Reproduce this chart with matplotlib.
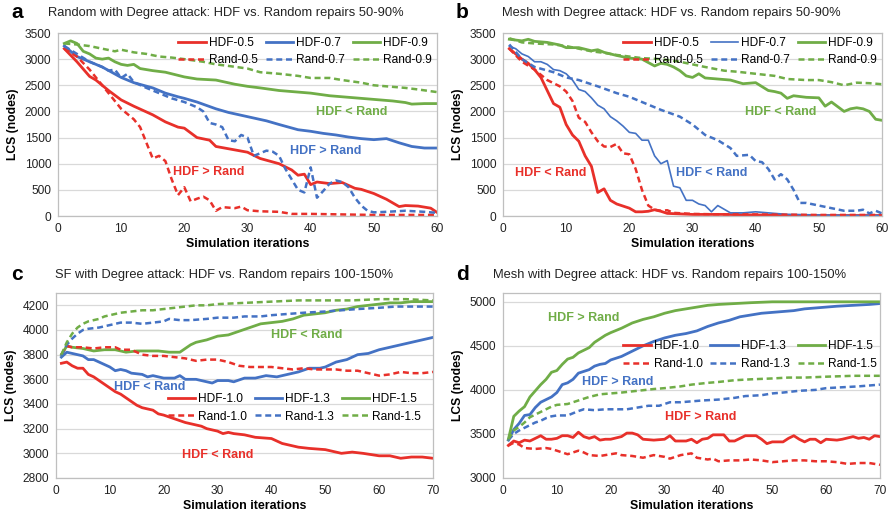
import matplotlib
matplotlib.use("Agg")
import matplotlib.pyplot as plt

plt.rcParams['font.family'] = ['Liberation Sans', 'DejaVu Sans']

RED = '#E8302A'
BLUE = '#4472C4'
GREEN = '#70AD47'

# ---------------- panel a: Random network, repairs 50-90% ----------------
a_hdf05_x = [1, 3, 5, 6, 8, 10, 12, 15, 17, 19, 20, 22, 24, 25, 30, 32, 35, 37, 38, 39, 40, 41, 43, 45, 47, 48, 50, 52, 54, 55, 57, 59, 60]
a_hdf05_y = [3200, 2950, 2670, 2600, 2400, 2220, 2100, 1935, 1800, 1700, 1680, 1500, 1450, 1330, 1220, 1100, 1000, 880, 780, 800, 600, 650, 620, 640, 530, 510, 430, 320, 180, 200, 190, 150, 70]
a_rand05_x = [1, 3, 5, 7, 8, 10, 12, 13, 14, 15, 16, 17, 18, 19, 20, 21, 22, 23, 24, 25, 26, 28, 29, 30, 32, 35, 37, 40, 45, 50, 60]
a_rand05_y = [3200, 3050, 2800, 2500, 2350, 2050, 1850, 1700, 1400, 1100, 1150, 1050, 700, 400, 550, 280, 330, 370, 300, 100, 170, 150, 180, 110, 90, 80, 40, 40, 30, 20, 20]
a_hdf07_x = [1, 3, 5, 7, 10, 12, 15, 17, 19, 20, 22, 25, 27, 30, 33, 35, 38, 40, 42, 44, 46, 48, 50, 52, 54, 56, 58, 60]
a_hdf07_y = [3250, 3050, 2950, 2850, 2650, 2550, 2450, 2350, 2280, 2250, 2180, 2050, 1980, 1900, 1820, 1750, 1650, 1620, 1580, 1550, 1510, 1480, 1460, 1480, 1400, 1330, 1300, 1300]
a_rand07_x = [1, 3, 5, 7, 8, 9, 10, 11, 12, 14, 16, 18, 20, 22, 23, 24, 25, 26, 27, 28, 29, 30, 31, 32, 33, 34, 35, 36, 37, 38, 39, 40, 41, 42, 43, 44, 45, 46, 47, 48, 49, 50, 52, 55, 58, 60]
a_rand07_y = [3250, 3100, 2950, 2850, 2780, 2800, 2640, 2720, 2560, 2450, 2350, 2250, 2180, 2080, 2000, 1780, 1750, 1700, 1450, 1430, 1550, 1500, 1150, 1200, 1250, 1230, 1150, 900, 700, 500, 450, 930, 350, 480, 620, 680, 650, 550, 350, 200, 100, 70, 80, 100, 80, 60]
a_hdf09_x = [1, 2, 3, 4, 5, 6, 7, 8, 9, 10, 11, 12, 13, 15, 17, 20, 22, 25, 28, 30, 32, 35, 37, 40, 43, 45, 48, 50, 53, 55, 56, 58, 60]
a_hdf09_y = [3300, 3350, 3300, 3150, 3100, 3020, 3000, 3020, 2950, 2900, 2880, 2900, 2820, 2780, 2750, 2660, 2620, 2600, 2520, 2480, 2450, 2400, 2380, 2350, 2300, 2280, 2250, 2230, 2200, 2170, 2140, 2150, 2150]
a_rand09_x = [1, 3, 5, 7, 9, 10, 12, 14, 16, 18, 20, 23, 25, 27, 30, 32, 35, 38, 40, 43, 45, 48, 50, 53, 55, 57, 60]
a_rand09_y = [3300, 3280, 3250, 3200, 3150, 3180, 3130, 3100, 3050, 3030, 3000, 2950, 2900, 2870, 2820, 2750, 2720, 2680, 2640, 2640, 2600, 2550, 2500, 2470, 2450, 2420, 2370]

# ---------------- panel b: Mesh network, repairs 50-90% ----------------
b_hdf05_x = [1, 2, 3, 4, 5, 6, 7, 8, 9, 10, 11, 12, 13, 14, 15, 16, 17, 18, 19, 20, 21, 22, 23, 24, 25, 26, 28, 30, 35, 40, 50, 60]
b_hdf05_y = [3200, 3100, 3000, 2920, 2800, 2650, 2400, 2150, 2080, 1750, 1550, 1430, 1150, 950, 450, 520, 300, 230, 190, 150, 80, 80, 90, 120, 90, 50, 40, 30, 30, 20, 10, 10]
b_rand05_x = [1, 3, 5, 7, 9, 10, 11, 12, 13, 14, 15, 16, 17, 18, 19, 20, 21, 22, 23, 24, 25, 26, 27, 30, 35, 40, 50, 60]
b_rand05_y = [3200, 2950, 2800, 2600, 2480, 2380, 2200, 1880, 1800, 1600, 1430, 1330, 1320, 1380, 1200, 1180, 900, 500, 200, 120, 100, 110, 60, 40, 30, 30, 20, 20]
b_hdf07_x = [1, 2, 3, 4, 5, 6, 7, 8, 9, 10, 11, 12, 13, 14, 15, 16, 17, 18, 19, 20, 21, 22, 23, 24, 25, 26, 27, 28, 29, 30, 31, 32, 33, 34, 35, 36, 38, 40, 42, 45, 50, 55, 60]
b_hdf07_y = [3250, 3200, 3100, 3050, 2950, 2950, 2900, 2800, 2780, 2720, 2600, 2420, 2380, 2260, 2120, 2050, 1900, 1820, 1720, 1600, 1580, 1450, 1450, 1150, 1000, 1060, 570, 540, 300, 300, 230, 200, 80, 200, 130, 60, 60, 80, 60, 30, 20, 10, 10]
b_rand07_x = [1, 3, 5, 8, 10, 12, 15, 18, 20, 22, 25, 28, 30, 32, 34, 36, 37, 39, 40, 41, 42, 43, 44, 45, 46, 47, 48, 50, 52, 54, 56, 57, 58, 59, 60]
b_rand07_y = [3280, 3000, 2850, 2750, 2650, 2600, 2480, 2350, 2280, 2180, 2030, 1900, 1750, 1550, 1450, 1300, 1150, 1170, 1050, 1030, 900, 700, 800, 700, 500, 250, 250, 200, 150, 100, 100, 120, 50, 100, 50]
b_hdf09_x = [1, 3, 4, 5, 7, 9, 10, 12, 14, 15, 16, 18, 20, 22, 24, 25, 26, 27, 28, 29, 30, 31, 32, 34, 36, 38, 40, 42, 43, 44, 45, 46, 48, 50, 51, 52, 54, 55, 56, 57, 58, 59, 60]
b_hdf09_y = [3380, 3350, 3380, 3340, 3320, 3270, 3220, 3220, 3160, 3180, 3130, 3070, 3020, 3000, 2870, 2920, 2900, 2850, 2780, 2680, 2650, 2720, 2640, 2620, 2600, 2530, 2550, 2400, 2380, 2350, 2250, 2300, 2270, 2260, 2100, 2180, 2000, 2050, 2070, 2050, 2000, 1850, 1830]
b_rand09_x = [1, 3, 5, 8, 10, 12, 14, 16, 18, 20, 22, 25, 28, 30, 32, 35, 37, 40, 43, 45, 48, 50, 52, 54, 56, 58, 60]
b_rand09_y = [3400, 3320, 3300, 3280, 3250, 3200, 3150, 3120, 3080, 3050, 3020, 3000, 2950, 2900, 2850, 2780, 2760, 2720, 2680, 2620, 2600, 2600, 2560, 2500, 2550, 2540, 2520]

# ---------------- panel c: SF network, repairs 100-150% ----------------
c_hdf10_x = [1, 2, 3, 4, 5, 6, 7, 8, 9, 10, 11, 12, 13, 14, 15, 16, 17, 18, 19, 20, 22, 24, 25, 27, 28, 30, 31, 32, 33, 35, 37, 40, 42, 45, 47, 50, 52, 53, 55, 57, 60, 62, 64, 66, 68, 70]
c_hdf10_y = [3730, 3740, 3710, 3690, 3690, 3640, 3620, 3590, 3560, 3530, 3500, 3480, 3450, 3420, 3390, 3370, 3360, 3350, 3320, 3310, 3280, 3250, 3240, 3220, 3200, 3180, 3160, 3170, 3160, 3150, 3130, 3120, 3080, 3050, 3040, 3030, 3010, 3000, 3010, 3000, 2980, 2980, 2960, 2970, 2970, 2960]
c_rand10_x = [1, 2, 3, 5, 7, 9, 11, 12, 14, 16, 18, 20, 22, 24, 26, 28, 30, 32, 34, 36, 38, 40, 42, 44, 46, 48, 50, 52, 54, 56, 58, 60, 62, 64, 66, 68, 70]
c_rand10_y = [3800, 3870, 3860, 3860, 3850, 3860, 3860, 3840, 3840, 3800, 3790, 3790, 3780, 3770, 3750, 3760, 3760, 3740, 3710, 3700, 3700, 3700, 3690, 3680, 3690, 3680, 3680, 3680, 3670, 3670, 3650, 3630, 3640, 3660, 3650, 3650, 3660]
c_hdf13_x = [1, 2, 3, 4, 5, 6, 7, 8, 9, 10, 11, 12, 13, 14, 16, 17, 18, 20, 22, 23, 24, 26, 28, 29, 30, 32, 33, 35, 37, 39, 41, 43, 45, 47, 49, 50, 52, 54, 56, 58, 60, 62, 64, 66, 68, 70]
c_hdf13_y = [3780, 3820, 3810, 3800, 3790, 3760, 3760, 3740, 3720, 3700, 3670, 3680, 3670, 3650, 3640, 3620, 3630, 3610, 3610, 3630, 3600, 3600, 3580, 3570, 3590, 3590, 3580, 3610, 3610, 3630, 3620, 3640, 3660, 3690, 3690, 3700, 3740, 3760, 3800, 3810, 3840, 3860, 3880, 3900, 3920, 3940]
c_rand13_x = [1, 2, 3, 4, 5, 6, 8, 10, 12, 14, 16, 18, 20, 21, 23, 25, 28, 30, 33, 35, 38, 40, 43, 46, 50, 53, 56, 60, 63, 66, 70]
c_rand13_y = [3790, 3880, 3930, 3970, 4000, 4010, 4020, 4040, 4060, 4060, 4050, 4060, 4070, 4090, 4080, 4080, 4090, 4100, 4100, 4110, 4110, 4120, 4130, 4140, 4150, 4160, 4170, 4180, 4190, 4190, 4190]
c_hdf15_x = [1, 2, 3, 5, 7, 9, 11, 13, 15, 17, 19, 21, 23, 24, 25, 26, 28, 30, 32, 34, 36, 38, 40, 42, 44, 46, 48, 50, 52, 54, 56, 58, 60, 62, 64, 66, 68, 70]
c_hdf15_y = [3800, 3870, 3860, 3850, 3830, 3840, 3840, 3820, 3830, 3830, 3830, 3820, 3820, 3850, 3880, 3900, 3920, 3950, 3960, 3990, 4020, 4050, 4060, 4070, 4090, 4120, 4130, 4140, 4160, 4170, 4190, 4200, 4210, 4220, 4220, 4230, 4230, 4230]
c_rand15_x = [1, 2, 3, 4, 5, 6, 7, 8, 9, 10, 12, 14, 16, 18, 20, 22, 24, 26, 28, 30, 35, 40, 45, 50, 55, 60, 65, 70]
c_rand15_y = [3800, 3900, 3970, 4020, 4050, 4070, 4080, 4090, 4110, 4120, 4140, 4150, 4160, 4160, 4170, 4180, 4190, 4200, 4200, 4210, 4220, 4230, 4240, 4240, 4240, 4250, 4250, 4240]

# ---------------- panel d: Mesh network, repairs 100-150% ----------------
d_hdf10_x = [1, 2, 3, 4, 5, 6, 7, 8, 9, 10, 11, 12, 13, 14, 15, 16, 17, 18, 19, 20, 22, 23, 24, 25, 26, 28, 30, 31, 32, 34, 35, 36, 37, 38, 39, 41, 42, 43, 45, 47, 48, 49, 50, 52, 53, 54, 55, 56, 57, 58, 59, 60, 62, 63, 65, 66, 67, 68, 69, 70]
d_hdf10_y = [3370, 3420, 3400, 3430, 3420, 3450, 3480, 3440, 3440, 3450, 3480, 3480, 3460, 3520, 3470, 3450, 3470, 3430, 3440, 3440, 3470, 3510, 3510, 3490, 3440, 3430, 3440, 3480, 3420, 3420, 3440, 3400, 3440, 3450, 3490, 3490, 3420, 3420, 3480, 3480, 3440, 3390, 3410, 3410, 3450, 3480, 3440, 3410, 3440, 3440, 3400, 3440, 3430, 3440, 3470, 3450, 3460, 3440, 3480, 3470]
d_rand10_x = [1, 2, 3, 4, 6, 8, 9, 10, 12, 13, 14, 15, 16, 18, 20, 21, 22, 24, 26, 28, 30, 31, 33, 35, 36, 38, 39, 40, 42, 44, 46, 48, 50, 52, 54, 56, 58, 60, 62, 63, 64, 66, 68, 70]
d_rand10_y = [3370, 3400, 3380, 3340, 3330, 3340, 3330, 3310, 3270, 3290, 3310, 3290, 3260, 3250, 3270, 3280, 3260, 3250, 3230, 3260, 3240, 3220, 3260, 3280, 3230, 3210, 3220, 3190, 3200, 3200, 3210, 3200, 3180, 3190, 3200, 3200, 3190, 3190, 3180, 3170, 3160, 3170, 3170, 3150]
d_hdf13_x = [1, 2, 3, 4, 5, 6, 7, 8, 9, 10, 11, 12, 13, 14, 15, 16, 17, 18, 19, 20, 22, 24, 26, 28, 30, 32, 34, 36, 38, 40, 42, 44, 46, 48, 50, 52, 54, 56, 58, 60, 62, 65, 68, 70]
d_hdf13_y = [3430, 3550, 3620, 3710, 3720, 3800, 3860, 3890, 3920, 3970, 4060, 4080, 4120, 4190, 4210, 4230, 4270, 4290, 4300, 4340, 4380, 4440, 4500, 4550, 4590, 4620, 4640, 4670, 4720, 4760, 4790, 4830, 4850, 4870, 4880, 4890, 4900, 4920, 4930, 4940, 4950, 4960, 4970, 4980]
d_rand13_x = [1, 2, 3, 4, 5, 6, 7, 8, 9, 10, 12, 14, 15, 17, 19, 21, 23, 25, 27, 29, 31, 33, 35, 37, 40, 43, 45, 48, 50, 52, 55, 58, 60, 63, 66, 70]
d_rand13_y = [3430, 3500, 3540, 3570, 3600, 3630, 3650, 3680, 3700, 3710, 3710, 3760, 3780, 3770, 3780, 3780, 3780, 3800, 3820, 3820, 3860, 3860, 3870, 3880, 3890, 3910, 3930, 3940, 3960, 3970, 3990, 4000, 4020, 4030, 4040, 4060]
d_hdf15_x = [1, 2, 3, 4, 5, 6, 7, 8, 9, 10, 11, 12, 13, 14, 15, 16, 17, 18, 19, 20, 22, 24, 26, 28, 30, 32, 34, 36, 38, 40, 43, 46, 50, 60, 70]
d_hdf15_y = [3440, 3700, 3760, 3810, 3920, 3990, 4060, 4120, 4200, 4220, 4290, 4350, 4370, 4420, 4450, 4480, 4540, 4580, 4620, 4650, 4700, 4760, 4800, 4830, 4870, 4900, 4920, 4940, 4960, 4970, 4980, 4990, 5000, 5000, 5000]
d_rand15_x = [1, 2, 3, 4, 5, 6, 7, 8, 9, 10, 12, 14, 16, 18, 20, 22, 25, 28, 30, 33, 35, 38, 40, 43, 46, 50, 53, 56, 60, 65, 70]
d_rand15_y = [3440, 3540, 3580, 3630, 3690, 3720, 3750, 3780, 3810, 3830, 3840, 3880, 3920, 3950, 3960, 3970, 3990, 4010, 4020, 4040, 4060, 4080, 4090, 4110, 4120, 4130, 4140, 4140, 4150, 4160, 4160]

W, H = 890, 520
fig = plt.figure(figsize=(W / 100, H / 100), dpi=100)

DASH = (0, (2.4, 1.5))


def px_axes(left, top, right, bottom):
    return fig.add_axes([left / W, 1 - bottom / H, (right - left) / W, (bottom - top) / H])


def style(ax, xmax, ylim, ystep):
    ax.set_xlim(0, xmax)
    ax.set_ylim(*ylim)
    ax.set_xticks(range(0, xmax + 1, 10))
    ax.set_yticks(range(ylim[0], ylim[1] + 1, ystep))
    ax.grid(axis='y', color='#D9D9D9', lw=0.9)
    ax.set_axisbelow(True)
    for s in ax.spines.values():
        s.set_color('#BFBFBF')
        s.set_linewidth(0.9)
    ax.tick_params(length=0, labelsize=8.6, colors='#222222', pad=5)
    ax.set_xlabel('Simulation iterations', fontsize=8.9, fontweight='bold', labelpad=2)
    ax.set_ylabel('LCS (nodes)', fontsize=8.7, fontweight='bold', labelpad=4)


def draw(ax, series, blue_lw=2.0):
    handles = []
    for (x, y), lab, col, ls in series:
        if ls == '-':
            lw = blue_lw if col == BLUE else 2.0
        else:
            lw = 1.8
        h, = ax.plot(x, y, color=col, lw=lw, ls=ls, label=lab, solid_joinstyle='round')
        handles.append(h)
    return handles


def legend(ax, handles, anchor):
    order = [0, 3, 1, 4, 2, 5]
    return ax.legend([handles[i] for i in order], [handles[i].get_label() for i in order],
                     ncol=3, frameon=False, fontsize=8.6, handlelength=2.3,
                     handletextpad=0.25, columnspacing=0.65, labelspacing=0.45,
                     borderpad=0.1, borderaxespad=0.0, loc='upper right',
                     bbox_to_anchor=anchor, bbox_transform=ax.transAxes)


def panel_title(letter, title, x_letter, x_title, y):
    fig.text(x_letter / W, 1 - y / H, letter, fontsize=15, fontweight='bold', va='center')
    fig.text(x_title / W, 1 - y / H, title, fontsize=9.3, va='center', color='#222222')


def note(ax, x, y, txt, col):
    ax.text(x, y, txt, color=col, fontsize=9, fontweight='bold', ha='center', va='center')


# panel a
ax = px_axes(58, 33, 437, 216)
style(ax, 60, (0, 3500), 500)
hs = draw(ax, [((a_hdf05_x, a_hdf05_y), 'HDF-0.5', RED, '-'),
               ((a_hdf07_x, a_hdf07_y), 'HDF-0.7', BLUE, '-'),
               ((a_hdf09_x, a_hdf09_y), 'HDF-0.9', GREEN, '-'),
               ((a_rand05_x, a_rand05_y), 'Rand-0.5', RED, DASH),
               ((a_rand07_x, a_rand07_y), 'Rand-0.7', BLUE, DASH),
               ((a_rand09_x, a_rand09_y), 'Rand-0.9', GREEN, DASH)])
legend(ax, hs, (0.99, 0.985))
note(ax, 46.5, 1980, 'HDF < Rand', GREEN)
note(ax, 42.4, 1250, 'HDF > Rand', BLUE)
note(ax, 23.9, 850, 'HDF > Rand', RED)
panel_title('a', 'Random with Degree attack: HDF vs. Random repairs 50-90%', 11, 48, 13)

# panel b
ax = px_axes(503, 33, 882, 216)
style(ax, 60, (0, 3500), 500)
hs = draw(ax, [((b_hdf05_x, b_hdf05_y), 'HDF-0.5', RED, '-'),
               ((b_hdf07_x, b_hdf07_y), 'HDF-0.7', BLUE, '-'),
               ((b_hdf09_x, b_hdf09_y), 'HDF-0.9', GREEN, '-'),
               ((b_rand05_x, b_rand05_y), 'Rand-0.5', RED, DASH),
               ((b_rand07_x, b_rand07_y), 'Rand-0.7', BLUE, DASH),
               ((b_rand09_x, b_rand09_y), 'Rand-0.9', GREEN, DASH)], blue_lw=1.2)
legend(ax, hs, (0.99, 0.985))
note(ax, 44, 1980, 'HDF < Rand', GREEN)
note(ax, 33, 830, 'HDF < Rand', BLUE)
note(ax, 7.6, 820, 'HDF < Rand', RED)
panel_title('b', 'Mesh with Degree attack: HDF vs. Random repairs 50-90%', 456, 502, 13)

# panel c
ax = px_axes(56, 293, 433, 478)
style(ax, 70, (2800, 4300), 200)
ax.set_yticks(range(2800, 4201, 200))
hs = draw(ax, [((c_hdf10_x, c_hdf10_y), 'HDF-1.0', RED, '-'),
               ((c_hdf13_x, c_hdf13_y), 'HDF-1.3', BLUE, '-'),
               ((c_hdf15_x, c_hdf15_y), 'HDF-1.5', GREEN, '-'),
               ((c_rand10_x, c_rand10_y), 'Rand-1.0', RED, DASH),
               ((c_rand13_x, c_rand13_y), 'Rand-1.3', BLUE, DASH),
               ((c_rand15_x, c_rand15_y), 'Rand-1.5', GREEN, DASH)])
legend(ax, hs, (0.972, 0.465))
note(ax, 46.5, 3960, 'HDF < Rand', GREEN)
note(ax, 17.4, 3534, 'HDF < Rand', BLUE)
note(ax, 30.1, 2990, 'HDF < Rand', RED)
panel_title('c', 'SF with Degree attack: HDF vs. Random repairs 100-150%', 11, 55, 275)

# panel d
ax = px_axes(503, 293, 880, 478)
style(ax, 70, (3000, 5100), 500)
ax.set_yticks(range(3000, 5001, 500))
hs = draw(ax, [((d_hdf10_x, d_hdf10_y), 'HDF-1.0', RED, '-'),
               ((d_hdf13_x, d_hdf13_y), 'HDF-1.3', BLUE, '-'),
               ((d_hdf15_x, d_hdf15_y), 'HDF-1.5', GREEN, '-'),
               ((d_rand10_x, d_rand10_y), 'Rand-1.0', RED, DASH),
               ((d_rand13_x, d_rand13_y), 'Rand-1.3', BLUE, DASH),
               ((d_rand15_x, d_rand15_y), 'Rand-1.5', GREEN, DASH)])
legend(ax, hs, (0.995, 0.75))
note(ax, 14.9, 4821, 'HDF > Rand', GREEN)
note(ax, 21.3, 4093, 'HDF > Rand', BLUE)
note(ax, 36.7, 3693, 'HDF > Rand', RED)
panel_title('d', 'Mesh with Degree attack: HDF vs. Random repairs 100-150%', 456, 493, 275)

fig.savefig('out.png', dpi=100)
